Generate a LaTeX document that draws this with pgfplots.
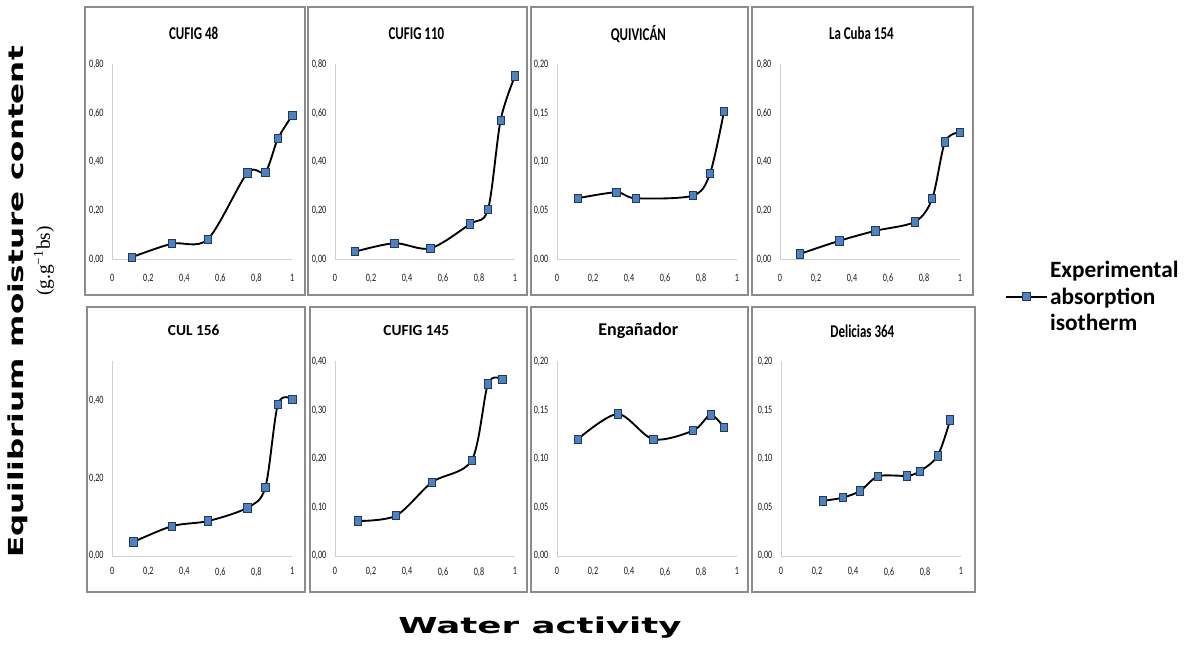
\documentclass[border=0pt]{standalone}
\usepackage{pgfplots}
\pgfplotsset{compat=1.18}
\usepackage{fontspec}
\setmainfont{Carlito}
\newfontfamily\condfont[FakeStretch=0.72]{Carlito}
\newfontfamily\widefont[FakeStretch=1.5]{DejaVu Sans}
\newfontfamily\widerfont[FakeStretch=1.62]{DejaVu Sans}
\newfontfamily\unitfont{Liberation Serif}
\definecolor{xlblue}{HTML}{4F81BD}
\definecolor{xlnavy}{HTML}{1F3A60}
\definecolor{framegray}{HTML}{8C8C8C}
\newcommand\pxu{0.75pt}

\pgfplotsset{
  panel/.style={
    scale only axis, width=135pt, height=146.25pt,
    xmin=0, xmax=1, ymin=0,
    axis x line=bottom, axis y line=left,
    axis line style={draw=black!18, line width=0.7pt, -},
    major tick length=0pt,
    xtick={0,0.2,0.4,0.6,0.8,1},
    clip=false,
    /pgf/number format/assume math mode=true,
    ticklabel style={font=\condfont\fontsize{8.5}{9}\selectfont, text=black!90},
    xticklabel style={/pgf/number format/fixed, /pgf/number format/precision=1,
      /pgf/number format/use comma},
    yticklabel style={xshift=-3pt, /pgf/number format/fixed,
      /pgf/number format/fixed zerofill, /pgf/number format/precision=2,
      /pgf/number format/use comma},
    title style={at={(0.5,1)}, anchor=center, yshift=17pt, xshift=-6.5pt,
      font=\condfont\bfseries\fontsize{13.5}{15}\selectfont},
  },
  toprow/.style={panel, xticklabel style={yshift=-7.5pt}},
  botrow/.style={panel, height=145.9pt, xticklabel style={yshift=-5pt}},
  iso/.style={black, line width=1.4pt, smooth,
    mark=square*, mark size=2.7pt,
    mark options={fill=xlblue, draw=xlnavy, line width=0.6pt, yscale=1.15, solid}},
}

\begin{document}
\begin{tikzpicture}
\useasboundingbox (0,0) rectangle (1195*\pxu,-644*\pxu);

% top row
\begin{axis}[toprow, at={(112.3*\pxu,-259.3*\pxu)}, anchor=south west,
  ymax=0.8, ytick={0,0.2,0.4,0.6,0.8}, title={CUFIG 48}]
\addplot[iso] coordinates {(0.11,0.009)(0.33,0.064)(0.53,0.082)(0.75,0.354)(0.85,0.358)(0.92,0.495)(1.0,0.59)};
\end{axis}

\begin{axis}[toprow, at={(335*\pxu,-259.3*\pxu)}, anchor=south west,
  ymax=0.8, ytick={0,0.2,0.4,0.6,0.8}, title={CUFIG 110}]
\addplot[iso] coordinates {(0.11,0.031)(0.33,0.066)(0.53,0.045)(0.75,0.145)(0.85,0.205)(0.92,0.571)(1.0,0.752)};
\end{axis}

\begin{axis}[toprow, at={(557*\pxu,-259.3*\pxu)}, anchor=south west,
  ymax=0.2, ytick={0,0.05,0.1,0.15,0.2}, title={QUIVICÁN}]
\addplot[iso] coordinates {(0.115,0.0626)(0.33,0.0687)(0.437,0.0626)(0.754,0.0653)(0.85,0.088)(0.928,0.152)};
\end{axis}

\begin{axis}[toprow, at={(780*\pxu,-259.3*\pxu)}, anchor=south west,
  ymax=0.8, ytick={0,0.2,0.4,0.6,0.8}, title={La Cuba 154},
  legend style={at={(1.228,-0.12)}, anchor=west, draw=none, fill=none,
    font=\bfseries\fontsize{17.5}{20}\selectfont},
  legend image code/.code={\draw[mark repeat=2, mark phase=2, #1]
    plot coordinates {(0cm,-10.5pt)(0.53cm,-10.5pt)(1.06cm,-10.5pt)};}]
\addplot[iso] coordinates {(0.11,0.022)(0.33,0.076)(0.53,0.117)(0.75,0.154)(0.846,0.25)(0.917,0.482)(1.0,0.521)};
\addlegendentry{\begin{tabular}{@{}l@{}}Experimental\\absorption\\isotherm\end{tabular}}
\end{axis}

% bottom row
\begin{axis}[botrow, at={(112.3*\pxu,-556*\pxu)}, anchor=south west,
  ymax=0.5, ytick={0,0.2,0.4}, title={CUL 156},
  title style={font=\bfseries\fontsize{11.5}{13}\selectfont}]
\addplot[iso] coordinates {(0.117,0.036)(0.333,0.077)(0.533,0.09)(0.75,0.124)(0.85,0.176)(0.92,0.39)(1.0,0.403)};
\end{axis}

\begin{axis}[botrow, at={(335*\pxu,-556*\pxu)}, anchor=south west,
  ymax=0.4, ytick={0,0.1,0.2,0.3,0.4}, title={CUFIG 145},
  title style={font=\bfseries\fontsize{11.5}{13}\selectfont}]
\addplot[iso] coordinates {(0.127,0.072)(0.339,0.083)(0.54,0.152)(0.76,0.197)(0.85,0.354)(0.93,0.363)};
\end{axis}

\begin{axis}[botrow, at={(557*\pxu,-556*\pxu)}, anchor=south west,
  ymax=0.2, ytick={0,0.05,0.1,0.15,0.2}, title={Engañador},
  title style={font=\bfseries\fontsize{13.5}{15}\selectfont}]
\addplot[iso] coordinates {(0.115,0.120)(0.337,0.146)(0.535,0.120)(0.757,0.129)(0.853,0.145)(0.928,0.132)};
\end{axis}

\begin{axis}[botrow, at={(781*\pxu,-556*\pxu)}, anchor=south west,
  ymax=0.2, ytick={0,0.05,0.1,0.15,0.2}, title={Delicias 364}]
\addplot[iso] coordinates {(0.232,0.0567)(0.343,0.060)(0.44,0.067)(0.54,0.082)(0.70,0.0825)(0.77,0.087)(0.87,0.103)(0.94,0.14)};
\end{axis}

% chart-area frames
\begin{scope}[framegray, line width=1pt]
\draw (85*\pxu,-7*\pxu) rectangle (305*\pxu,-295*\pxu);
\draw (308*\pxu,-7*\pxu) rectangle (527*\pxu,-295*\pxu);
\draw (531*\pxu,-7*\pxu) rectangle (748*\pxu,-295*\pxu);
\draw (752*\pxu,-7*\pxu) rectangle (973*\pxu,-295*\pxu);
\draw (87*\pxu,-307*\pxu) rectangle (305*\pxu,-592*\pxu);
\draw (310*\pxu,-307*\pxu) rectangle (527*\pxu,-592*\pxu);
\draw (531*\pxu,-307*\pxu) rectangle (748*\pxu,-592*\pxu);
\draw (752*\pxu,-307*\pxu) rectangle (975*\pxu,-592*\pxu);
\end{scope}

% common axis labels
\node[rotate=90, font=\widefont\bfseries\fontsize{15.5}{17}\selectfont] at (18*\pxu,-302*\pxu) {Equilibrium moisture content};
\node[rotate=90, font=\unitfont\fontsize{14.5}{16}\selectfont] at (44*\pxu,-261*\pxu) {(g.g\textsuperscript{−1}bs)};
\node[font=\widerfont\bfseries\fontsize{16.5}{18}\selectfont] at (540*\pxu,-628*\pxu) {Water activity};
\end{tikzpicture}
\end{document}
